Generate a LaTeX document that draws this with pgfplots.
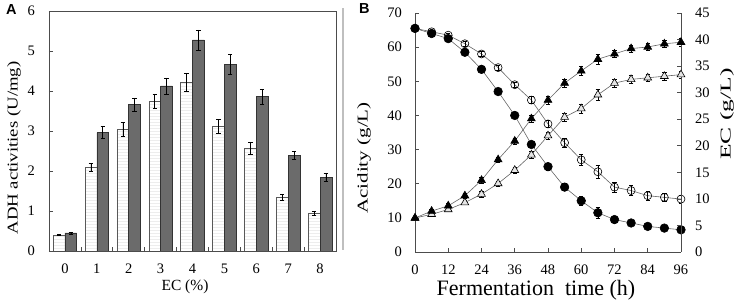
\documentclass[border=0pt]{standalone}
\usepackage{graphicx}
\usepackage{pgfplots}
\pgfplotsset{compat=1.18}
\usepackage{fontspec}
\setmainfont{Liberation Serif}
\newfontfamily\lsans{Liberation Sans}
\usetikzlibrary{patterns}
\definecolor{barg}{HTML}{6B6B6B}
\begin{document}
\begin{tikzpicture}[x=1pt,y=1pt]
\useasboundingbox (0,0) rectangle (737,300);
% ---------- Panel A ----------
\begin{axis}[
  at={(49pt,49pt)}, anchor=south west, scale only axis,
  width=287pt, height=240pt,
  xmin=-0.5, xmax=8.5, ymin=0, ymax=6,
  ybar=0pt, bar width=0.37,
  xtick={0,...,8}, minor xtick={0.5,1.5,...,7.5},
  major x tick style={draw=none},
  minor tick length=4pt, major tick length=4pt,
  ytick={0,...,6},
  tick align=inside, xtick pos=left, ytick pos=left,
  axis line style={draw=black!70, line width=0.8pt},
  every tick/.style={black!70, line width=0.7pt},
  tick label style={font=\fontsize{14.5}{14.5}\selectfont},
  /pgf/number format/assume math mode=true,
  xticklabel style={yshift=-9pt},
  yticklabel style={anchor=east, inner sep=0pt, xshift=-14pt},
  error bars/y dir=both, error bars/y explicit,
  error bars/error mark options={rotate=90, mark size=2.2pt, black, line width=0.6pt},
  error bars/error bar style={black, line width=0.6pt},
]
\addplot[draw=black!65, line width=0.6pt, fill=white,
  postaction={pattern=horizontal lines, pattern color=black!7}]
  coordinates {
  (0,0.40) +- (0,0.02)
  (1,2.10) +- (0,0.10)
  (2,3.05) +- (0,0.17)
  (3,3.75) +- (0,0.18)
  (4,4.22) +- (0,0.22)
  (5,3.12) +- (0,0.17)
  (6,2.58) +- (0,0.15)
  (7,1.34) +- (0,0.07)
  (8,0.95) +- (0,0.05)
  };
\addplot[draw=black!80, line width=0.6pt, fill=barg]
  coordinates {
  (0,0.45) +- (0,0.02)
  (1,2.96) +- (0,0.15)
  (2,3.66) +- (0,0.17)
  (3,4.13) +- (0,0.20)
  (4,5.28) +- (0,0.25)
  (5,4.67) +- (0,0.25)
  (6,3.86) +- (0,0.18)
  (7,2.40) +- (0,0.10)
  (8,1.85) +- (0,0.10)
  };
\end{axis}
% separator
\draw[black!25, line width=1.5pt] (343,50) -- (343,292);
% ---------- Panel B: acidity ----------
\begin{axis}[
  at={(415pt,48pt)}, anchor=south west, scale only axis,
  width=266pt, height=239pt,
  xmin=0, xmax=96, ymin=0, ymax=70,
  xtick={0,12,...,96}, ytick={0,10,...,70},
  axis x line*=bottom, axis y line*=left,
  tick align=inside, major tick length=4pt,
  axis line style={draw=black!70, line width=0.8pt},
  every tick/.style={black!70, line width=0.7pt},
  tick label style={font=\fontsize{14.5}{14.5}\selectfont},
  /pgf/number format/assume math mode=true,
  xticklabel style={yshift=-9pt},
  yticklabel style={anchor=east, inner sep=0pt, xshift=-13pt},
  error bars/y dir=both, error bars/y explicit,
  error bars/error mark options={rotate=90, mark size=2.2pt, black, line width=0.5pt},
  error bars/error bar style={black, line width=0.5pt},
]
% open circles
\addplot[black!60, line width=0.6pt, mark=o, mark size=4pt,
  mark options={draw=black, fill=white, line width=0.6pt}]
  coordinates {
  (0,65.5) +- (0,0.5) (6,64.5) +- (0,0.5) (12,63.5) +- (0,0.6) (18,61) +- (0,0.6)
  (24,58) +- (0,0.7) (30,54) +- (0,0.7) (36,49) +- (0,0.8) (42,44.5) +- (0,1.0)
  (48,37.5) +- (0,1.0) (54,32) +- (0,1.2) (60,27) +- (0,1.5) (66,23.5) +- (0,2.0)
  (72,19) +- (0,1.5) (78,18) +- (0,1.5) (84,16.5) +- (0,1.3) (90,16) +- (0,1.2) (96,15.5) +- (0,1.2)
  };
% filled circles
\addplot[black!60, line width=0.6pt, mark=*, mark size=4.3pt,
  mark options={draw=black, fill=black}]
  coordinates {
  (0,65.5) +- (0,0.4) (6,64) +- (0,0.5) (12,62.5) +- (0,0.5) (18,58.5) +- (0,0.6)
  (24,53.5) +- (0,0.6) (30,47) +- (0,0.6) (36,40) +- (0,0.7) (42,31.5) +- (0,0.8)
  (48,25) +- (0,1.0) (54,19) +- (0,1.0) (60,15) +- (0,1.2) (66,11.5) +- (0,1.5)
  (72,9.5) +- (0,0.8) (78,8.5) +- (0,0.7) (84,7.5) +- (0,0.7) (90,7) +- (0,0.7) (96,6.5) +- (0,0.6)
  };
\end{axis}
% ---------- Panel B: EC ----------
\begin{axis}[
  at={(415pt,48pt)}, anchor=south west, scale only axis,
  width=266pt, height=239pt,
  xmin=0, xmax=96, ymin=0, ymax=45,
  axis x line=none, axis y line*=right,
  ytick={0,5,...,45},
  tick align=inside, major tick length=4pt,
  axis line style={draw=black!70, line width=0.8pt},
  every tick/.style={black!70, line width=0.7pt},
  tick label style={font=\fontsize{14.5}{14.5}\selectfont},
  /pgf/number format/assume math mode=true,
  yticklabel style={anchor=west, inner sep=0pt, xshift=14pt},
  error bars/y dir=both, error bars/y explicit,
  error bars/error mark options={rotate=90, mark size=2.2pt, black, line width=0.5pt},
  error bars/error bar style={black, line width=0.5pt},
]
% open triangles
\addplot[black!60, line width=0.6pt, mark=triangle*, mark size=4.5pt,
  mark options={draw=black, fill=black!10, line width=0.6pt}]
  coordinates {
  (0,6.4) +- (0,0.3) (6,7.1) +- (0,0.4) (12,8.0) +- (0,0.4) (18,9.3) +- (0,0.4)
  (24,10.9) +- (0,0.5) (30,12.9) +- (0,0.5) (36,15.4) +- (0,0.6) (42,18.3) +- (0,0.6)
  (48,21.9) +- (0,0.7) (54,25.4) +- (0,0.7) (60,27.0) +- (0,0.8) (66,29.6) +- (0,1.0)
  (72,31.8) +- (0,0.8) (78,32.5) +- (0,0.7) (84,32.8) +- (0,0.7) (90,33.1) +- (0,0.7) (96,33.4) +- (0,0.7)
  };
% filled triangles
\addplot[black!60, line width=0.6pt, mark=triangle*, mark size=4.5pt,
  mark options={draw=black, fill=black}]
  coordinates {
  (0,6.4) +- (0,0.3) (6,7.7) +- (0,0.4) (12,8.7) +- (0,0.4) (18,10.6) +- (0,0.4)
  (24,13.5) +- (0,0.5) (30,17.4) +- (0,0.5) (36,20.9) +- (0,0.6) (42,25.1) +- (0,0.6)
  (48,28.6) +- (0,0.7) (54,31.8) +- (0,0.7) (60,34.1) +- (0,0.8) (66,36.3) +- (0,0.9)
  (72,37.3) +- (0,0.7) (78,38.3) +- (0,0.7) (84,38.6) +- (0,0.7) (90,39.2) +- (0,0.7) (96,39.5) +- (0,0.7)
  };
\end{axis}
% ---------- labels ----------
\node[anchor=base west, inner sep=0pt] at (6,285) {\lsans\bfseries\fontsize{14.5}{14.5}\selectfont A};
\node[anchor=base west, inner sep=0pt] at (359,286) {\lsans\bfseries\fontsize{14.5}{14.5}\selectfont B};
\node[rotate=90, inner sep=0pt] at (14,152) {\fontsize{15}{15}\selectfont\scalebox{1.25}[1]{ADH activities (U/mg)}};
\node[anchor=base, inner sep=0pt] at (185,9) {\fontsize{15.5}{15.5}\selectfont EC (\%)};
\node[rotate=90, inner sep=0pt] at (364,142) {\fontsize{15}{15}\selectfont\scalebox{1.4}[1]{Acidity (g/L)}};
\node[rotate=90, inner sep=0pt] at (727,186) {\fontsize{15}{15}\selectfont\scalebox{1.7}[1]{EC (g/L)}};
\node[anchor=base, inner sep=0pt] at (536,4) {\fontsize{22}{22}\selectfont Fermentation\ \ time (h)};
\end{tikzpicture}
\end{document}
